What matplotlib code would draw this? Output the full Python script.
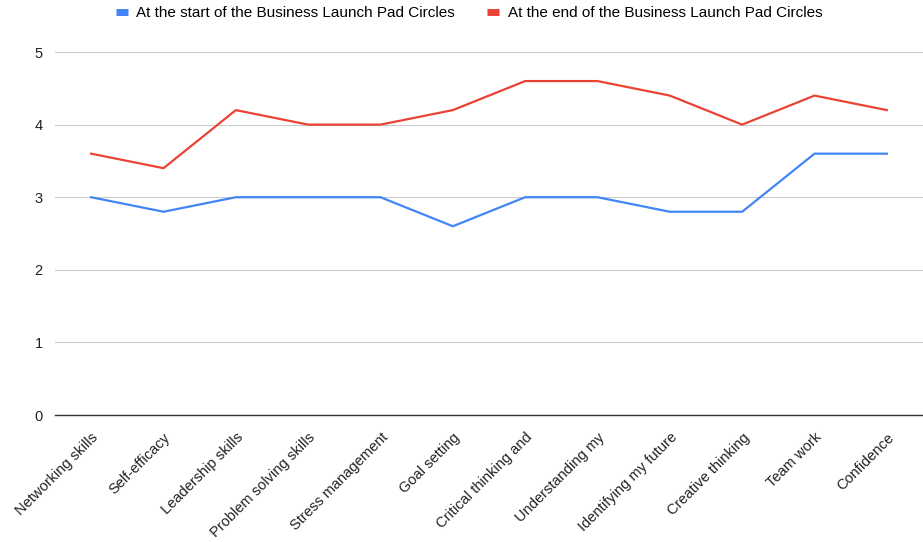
import matplotlib.pyplot as plt

plt.rcParams['font.family'] = ['Liberation Sans', 'DejaVu Sans']

# skills surveyed
skills = ["Networking skills", "Self-efficacy", "Leadership skills",
          "Problem solving skills", "Stress management", "Goal setting",
          "Critical thinking and", "Understanding my", "Identifying my future",
          "Creative thinking", "Team work", "Confidence"]

# average scores
start_scores = [3.0, 2.8, 3.0, 3.0, 3.0, 2.6, 3.0, 3.0, 2.8, 2.8, 3.6, 3.6]
end_scores = [3.6, 3.4, 4.2, 4.0, 4.0, 4.2, 4.6, 4.6, 4.4, 4.0, 4.4, 4.2]

fig = plt.figure(figsize=(9.23, 5.42), dpi=100)
ax = fig.add_axes([0.0596, 0.2343, 0.9404, 0.6697])

x = range(len(skills))
ax.plot(x, start_scores, color="#4285F4", lw=1.6,
        label="At the start of the Business Launch Pad Circles")
ax.plot(x, end_scores, color="#EA4335", lw=1.6,
        label="At the end of the Business Launch Pad Circles")

ax.set_xlim(-0.5, len(skills) - 0.5)
ax.set_ylim(0, 5)
ax.set_yticks([0, 1, 2, 3, 4, 5])
ax.grid(axis="y", color="#cccccc", lw=0.8)
ax.set_axisbelow(True)
for s in ["top", "right", "left"]:
    ax.spines[s].set_visible(False)
ax.spines["bottom"].set_color("#333333")
ax.spines["bottom"].set_linewidth(1.0)
ax.tick_params(axis="both", length=0, colors="#222222")
ax.tick_params(axis="y", pad=9, labelsize=10.5)

ax.set_xticks(list(x))
ax.set_xticklabels(skills, rotation=45, ha="right", rotation_mode="anchor",
                   fontsize=10.5)
ax.tick_params(axis="x", pad=11)

leg = ax.legend(loc="center", bbox_to_anchor=(0.477, 1.107), ncol=2,
                frameon=False, fontsize=11, handlelength=0.8,
                columnspacing=2.1, handletextpad=0.55)
for h in leg.get_lines():
    h.set_linewidth(5)
    h.set_solid_capstyle("butt")

fig.savefig("out.png", dpi=100)
